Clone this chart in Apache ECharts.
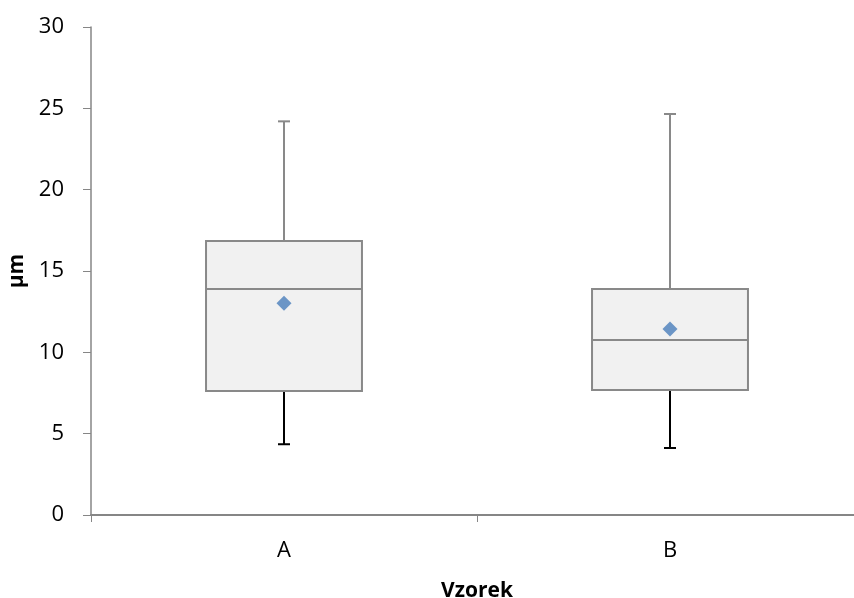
<!DOCTYPE html>
<html>
<head>
<meta charset="utf-8">
<script src="https://cdn.jsdelivr.net/npm/echarts@6/dist/echarts.min.js"></script>
<style>
	html, body { margin: 0; padding: 0; background: #fff; }
	#chart { width: 854px; height: 598px; }
</style>
</head>
<body>
<div id="chart"></div>
<script>
	const categories = ['A', 'B']
	const whiskerLow = [4.35, 4.12]
	const q1 = [7.62, 7.68]
	const median = [13.89, 10.76]
	const q3 = [16.84, 13.89]
	const whiskerHigh = [24.2, 24.65]
	const means = [13.02, 11.43]

	const boxData = categories.map((c, i) => [i, whiskerLow[i], q1[i], median[i], q3[i], whiskerHigh[i]])
	const meanData = categories.map((c, i) => [i, means[i]])

	const gray = '#898989'
	const font = 'Open Sans, Liberation Sans, sans-serif'

	const renderBox = (params, api) => {
		const x = api.value(0)
		const pLow = api.coord([x, api.value(1)])
		const pQ1 = api.coord([x, api.value(2)])
		const pMed = api.coord([x, api.value(3)])
		const pQ3 = api.coord([x, api.value(4)])
		const pHigh = api.coord([x, api.value(5)])
		const w = api.size([1, 0])[0] * 0.404
		const cx = pQ1[0]
		const cap = 6
		return {
			type: 'group',
			children: [
				{ type: 'line', shape: { x1: cx, y1: pQ3[1], x2: cx, y2: pHigh[1] }, style: { stroke: gray, lineWidth: 2 } },
				{ type: 'line', shape: { x1: cx - cap, y1: pHigh[1], x2: cx + cap, y2: pHigh[1] }, style: { stroke: gray, lineWidth: 2 } },
				{ type: 'line', shape: { x1: cx, y1: pQ1[1], x2: cx, y2: pLow[1] }, style: { stroke: '#000', lineWidth: 2 } },
				{ type: 'line', shape: { x1: cx - cap, y1: pLow[1], x2: cx + cap, y2: pLow[1] }, style: { stroke: '#000', lineWidth: 2 } },
				{ type: 'rect', shape: { x: cx - w / 2, y: pQ3[1], width: w, height: pQ1[1] - pQ3[1] }, style: { fill: '#f1f1f1', stroke: gray, lineWidth: 2 } },
				{ type: 'line', shape: { x1: cx - w / 2, y1: pMed[1], x2: cx + w / 2, y2: pMed[1] }, style: { stroke: gray, lineWidth: 2 } }
			]
		}
	}

	let Echarts = echarts.init(document.getElementById('chart'))
	const option = {
		animation: false,
		// the original plot runs a little past the right edge of the picture
		grid: { left: 91, right: -9, top: 27, bottom: 83, outerBoundsMode: 'none', containLabel: false },
		xAxis: {
			type: 'category',
			data: categories,
			boundaryGap: true,
			axisLine: { lineStyle: { color: '#868686', width: 2 } },
			axisTick: { show: true, length: 7, lineStyle: { color: '#868686' } },
			axisLabel: { color: '#000', fontSize: 22, fontFamily: font, margin: 25 },
			name: 'Vzorek',
			nameLocation: 'middle',
			nameGap: 66,
			nameTextStyle: { color: '#000', fontSize: 21, fontWeight: 'bold', fontFamily: font }
		},
		yAxis: {
			type: 'value',
			min: 0,
			max: 30,
			interval: 5,
			axisLine: { show: true, lineStyle: { color: '#868686', width: 1.5 } },
			axisTick: { show: true, length: 8, lineStyle: { color: '#868686' } },
			splitLine: { show: false },
			axisLabel: { color: '#000', fontSize: 22, fontFamily: font, margin: 27 },
			name: 'µm',
			nameLocation: 'middle',
			nameGap: 60,
			nameTextStyle: { color: '#000', fontSize: 21, fontWeight: 'bold', fontFamily: font }
		},
		series: [
			{
				type: 'custom',
				renderItem: renderBox,
				data: boxData,
				encode: { x: 0, y: [1, 2, 3, 4, 5] },
				z: 2
			},
			{
				type: 'scatter',
				data: meanData,
				symbol: 'diamond',
				symbolSize: 15,
				itemStyle: { color: '#4a7ebb' },
				z: 3
			}
		]
	}
	Echarts.setOption(option)
	window.onresize = () => {
		Echarts.resize()
	}
</script>
</body>
</html>
